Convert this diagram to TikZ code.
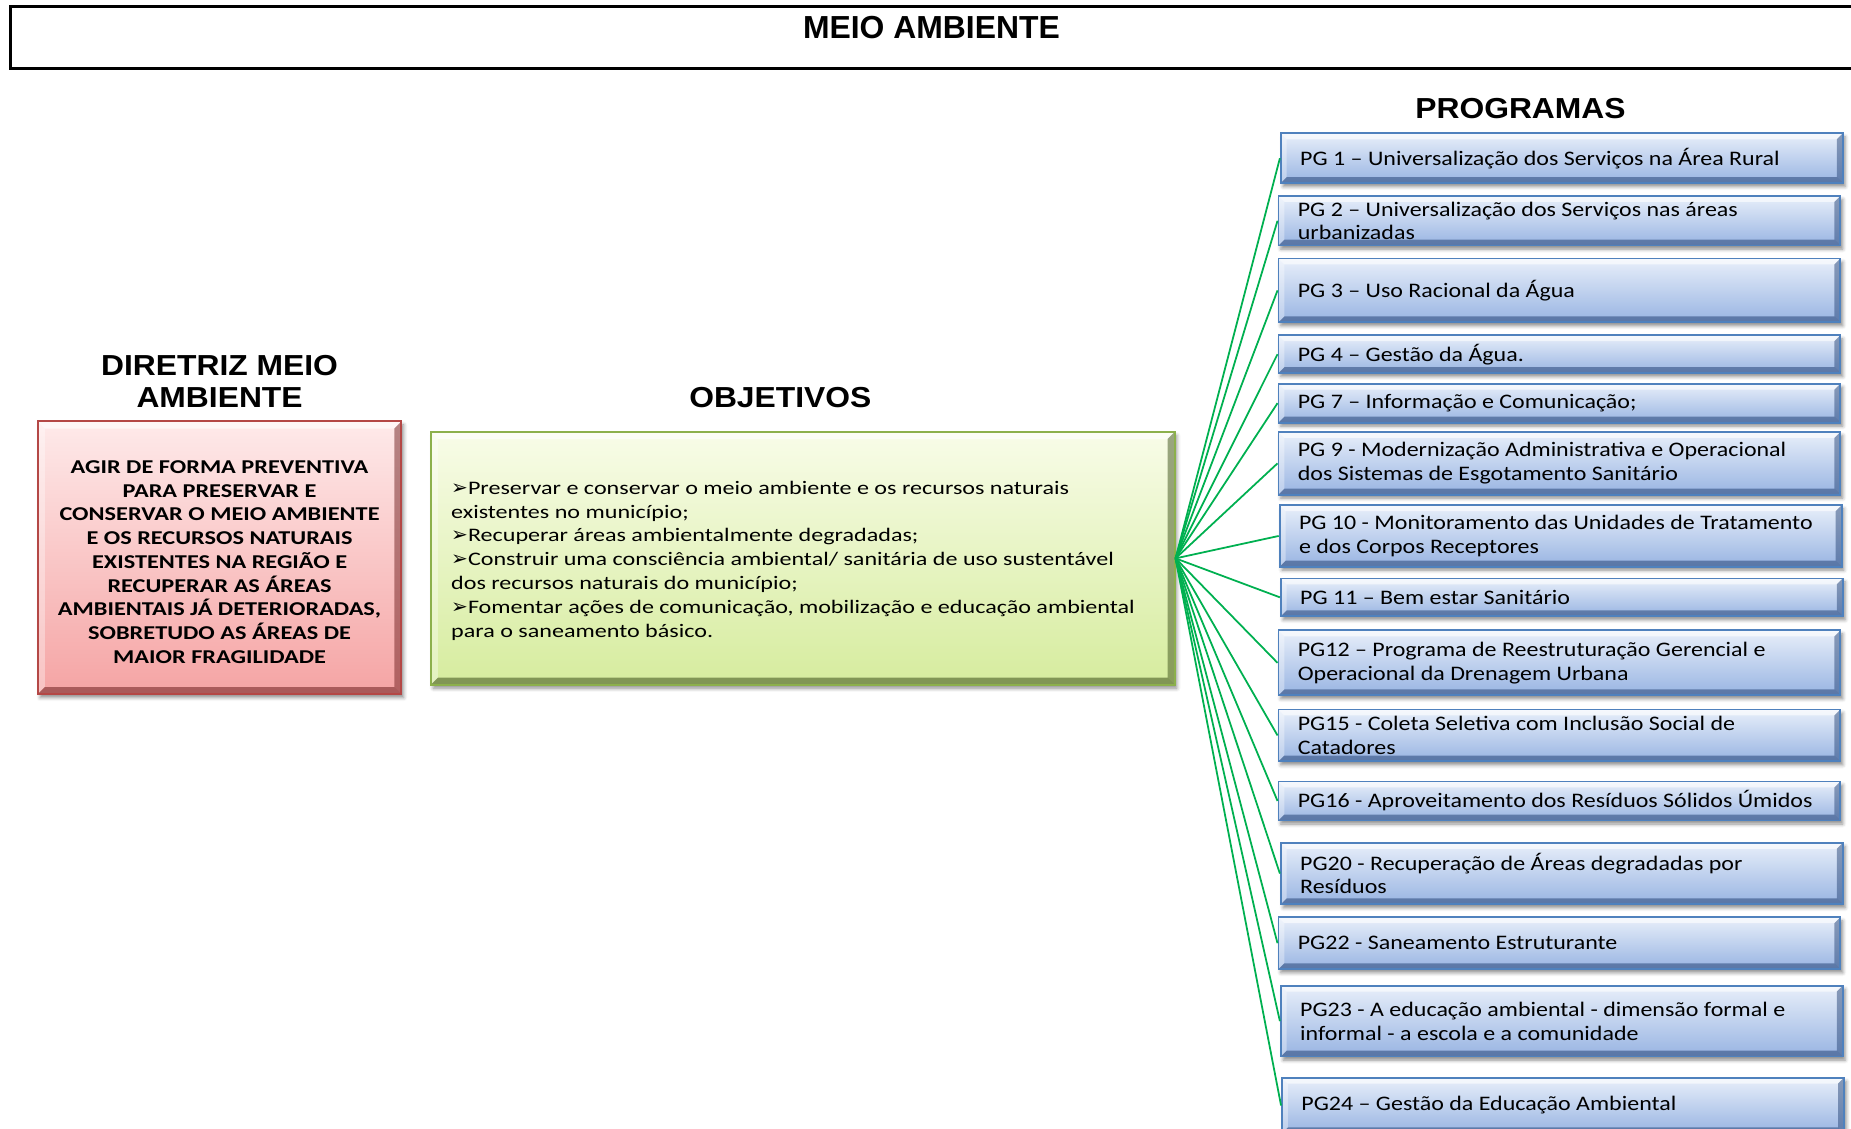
\documentclass[tikz,border=0pt]{standalone}
\usepackage{fontspec}
\setmainfont{Carlito}
\newfontfamily\titlefont{Liberation Sans}
\newfontfamily\headfont[FakeStretch=1.1]{Liberation Sans}
\newfontfamily\pgfont[FakeStretch=1.16]{Carlito}
\newfontfamily\redfont[FakeStretch=1.24]{Carlito}
\newfontfamily\objfont[FakeStretch=1.26]{Carlito}
\newfontfamily\dejavu{DejaVu Sans}
\usetikzlibrary{calc,shadows.blur}

\definecolor{pgtop}{RGB}{232,239,250}
\definecolor{pgbot}{RGB}{152,180,226}
\definecolor{pgborder}{RGB}{79,129,189}
\definecolor{pgdark}{RGB}{40,70,120}
\definecolor{redtop}{RGB}{254,234,234}
\definecolor{redbot}{RGB}{245,164,164}
\definecolor{redborder}{RGB}{180,72,70}
\definecolor{reddark}{RGB}{110,30,30}
\definecolor{grntop}{RGB}{248,252,232}
\definecolor{grnbot}{RGB}{214,236,158}
\definecolor{grnborder}{RGB}{140,176,76}
\definecolor{grndark}{RGB}{60,80,25}
\definecolor{conngreen}{RGB}{0,176,80}

\newcommand{\blt}{{\dejavu\fontsize{17}{12}\selectfont ➢}}

\tikzset{
  bevel/.style 2 args={path picture={
    \coordinate (bnw) at (path picture bounding box.north west);
    \coordinate (bne) at (path picture bounding box.north east);
    \coordinate (bsw) at (path picture bounding box.south west);
    \coordinate (bse) at (path picture bounding box.south east);
    \fill[white,opacity=.6] (bnw) -- (bne) -- ($(bne)+(-#1,#1)$) -- ($(bnw)+(#1,#1)$) -- cycle;
    \fill[white,opacity=.35] (bnw) -- ($(bnw)+(#1,#1)$) -- ($(bsw)+(#1,-#1)$) -- (bsw) -- cycle;
    \fill[#2,opacity=.5] (bne) -- (bse) -- ($(bse)+(-#1,-#1)$) -- ($(bne)+(-#1,#1)$) -- cycle;
    \fill[#2,opacity=.55] (bsw) -- (bse) -- ($(bse)+(-#1,-#1)$) -- ($(bsw)+(#1,-#1)$) -- cycle;
  }},
  softshadow/.style={blur shadow={shadow xshift=2pt,shadow yshift=-3pt,shadow blur radius=3pt,shadow opacity=45}},
  pgbox/.style={rectangle, inner sep=0pt, line width=1.6pt, draw=pgborder,
    top color=pgtop, bottom color=pgbot, bevel={5}{pgdark}, softshadow,
    minimum width=476pt, minimum height=#1},
  pgtext/.style={anchor=west, inner sep=0pt, align=left, font=\pgfont\fontsize{17.5}{20}\selectfont},
  head/.style={anchor=base, inner sep=0pt, font=\headfont\bfseries\fontsize{24.5}{27}\selectfont},
  conn/.style={draw=conngreen, line width=1.5pt},
}

\begin{document}
\begin{tikzpicture}[x=1pt,y=-1pt]
\useasboundingbox (0,0) rectangle (1568,956);

% title
\node[draw=black, line width=2.5pt, rectangle, inner sep=0pt, anchor=north west,
      minimum width=1580pt, minimum height=53pt] (titlebox) at (8,4) {};
\node[anchor=base, inner sep=0pt, font=\titlefont\bfseries\fontsize{27}{32}\selectfont] (title) at (789,32.5) {MEIO AMBIENTE};

% headings
\node[head] (hdir1) at (186,318) {DIRETRIZ MEIO};
\node[head] (hdir2) at (186,345) {AMBIENTE};
\node[head] (hobj) at (661,345) {OBJETIVOS};
\node[head] (hprog) at (1288,100) {PROGRAMAS};

% diretriz box
\node[rectangle, inner sep=0pt, line width=1.6pt, draw=redborder, top color=redtop, bottom color=redbot,
      bevel={6}{reddark}, softshadow, minimum width=308pt, minimum height=231pt] (dir) at (186,472.5) {};
\node[inner sep=0pt, align=center, font=\redfont\bfseries\fontsize{16.6}{20.1}\selectfont] (dirt) at (186,476)
 {AGIR DE FORMA PREVENTIVA\\PARA PRESERVAR E\\CONSERVAR O MEIO AMBIENTE\\E OS RECURSOS NATURAIS\\EXISTENTES  NA REGIÃO E\\RECUPERAR AS ÁREAS\\AMBIENTAIS JÁ DETERIORADAS,\\SOBRETUDO AS ÁREAS DE\\MAIOR FRAGILIDADE};

% objetivos box
\node[rectangle, inner sep=0pt, line width=1.6pt, draw=grnborder, top color=grntop, bottom color=grnbot,
      bevel={6}{grndark}, softshadow, minimum width=630pt, minimum height=214pt] (obj) at (680,473) {};
\node[anchor=west, inner sep=0pt, align=left, font=\objfont\fontsize{16.2}{20.2}\selectfont] (objt) at (382,475)
 {\blt Preservar e conservar o meio ambiente  e os recursos naturais\\existentes no município;\\\blt Recuperar áreas ambientalmente  degradadas;\\\blt Construir uma consciência ambiental/ sanitária de uso sustentável\\dos recursos naturais do município;\\\blt Fomentar ações de comunicação, mobilização e educação ambiental\\para o saneamento básico.};

% program boxes
\node[pgbox=42pt] (pg1) at (1323,134) {};
\node[pgbox=42pt] (pg2) at (1321,187) {};
\node[pgbox=54pt] (pg3) at (1321,246) {};
\node[pgbox=32pt] (pg4) at (1321,300) {};
\node[pgbox=33pt] (pg7) at (1321,341.5) {};
\node[pgbox=53pt] (pg9) at (1321,392.5) {};
\node[pgbox=52pt] (pg10) at (1322,454) {};
\node[pgbox=32pt] (pg11) at (1323,506) {};
\node[pgbox=55pt] (pg12) at (1321,561.5) {};
\node[pgbox=44pt] (pg15) at (1321,623) {};
\node[pgbox=33pt] (pg16) at (1321,678.5) {};
\node[pgbox=52pt] (pg20) at (1323,740) {};
\node[pgbox=44pt] (pg22) at (1321,799) {};
\node[pgbox=60pt] (pg23) at (1323,865) {};
\node[pgbox=47pt] (pg24) at (1324,936.5) {};

\node[pgtext] (pg1t) at ($(pg1.west)+(17,0)$) {PG 1 – Universalização dos Serviços na Área Rural};
\node[pgtext] (pg2t) at ($(pg2.west)+(17,0)$) {PG 2 – Universalização dos Serviços nas áreas\\urbanizadas};
\node[pgtext] (pg3t) at ($(pg3.west)+(17,0)$) {PG 3 – Uso Racional da Água};
\node[pgtext] (pg4t) at ($(pg4.west)+(17,0)$) {PG 4 – Gestão da Água.};
\node[pgtext] (pg7t) at ($(pg7.west)+(17,0)$) {PG 7 – Informação e Comunicação;};
\node[pgtext] (pg9t) at ($(pg9.west)+(17,0)$) {PG 9 - Modernização Administrativa e Operacional\\dos Sistemas de Esgotamento Sanitário};
\node[pgtext] (pg10t) at ($(pg10.west)+(17,0)$) {PG 10 - Monitoramento das Unidades de Tratamento\\e dos Corpos Receptores};
\node[pgtext] (pg11t) at ($(pg11.west)+(17,0)$) {PG 11 – Bem estar Sanitário};
\node[pgtext] (pg12t) at ($(pg12.west)+(17,0)$) {PG12 – Programa de Reestruturação Gerencial e\\Operacional da Drenagem Urbana};
\node[pgtext] (pg15t) at ($(pg15.west)+(17,0)$) {PG15 - Coleta Seletiva com Inclusão Social de\\Catadores};
\node[pgtext] (pg16t) at ($(pg16.west)+(17,0)$) {PG16 - Aproveitamento dos Resíduos Sólidos Úmidos};
\node[pgtext] (pg20t) at ($(pg20.west)+(17,0)$) {PG20 - Recuperação de Áreas degradadas por\\Resíduos};
\node[pgtext] (pg22t) at ($(pg22.west)+(17,0)$) {PG22 - Saneamento Estruturante};
\node[pgtext] (pg23t) at ($(pg23.west)+(17,0)$) {PG23 - A educação ambiental - dimensão formal e\\informal - a escola e a comunidade};
\node[pgtext] (pg24t) at ($(pg24.west)+(17,0)$) {PG24 – Gestão da Educação Ambiental};

% connectors
\foreach \p in {pg1,pg2,pg3,pg4,pg7,pg9,pg10,pg11,pg12,pg15,pg16,pg20,pg22,pg23,pg24}
  \draw[conn] (obj.east) -- (\p.west);
\end{tikzpicture}
\end{document}
